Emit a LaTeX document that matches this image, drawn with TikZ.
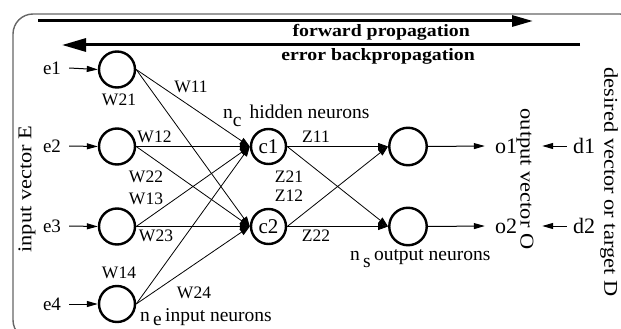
\documentclass[tikz,border=0pt]{standalone}
\usepackage{fontspec}
\setmainfont{Liberation Serif}
\usetikzlibrary{arrows.meta}
\begin{document}
\begin{tikzpicture}[x=1pt,y=-1pt,
  neuron/.style={circle,draw,line width=2.4pt,minimum size=36pt,inner sep=0pt},
  link/.style={line width=0.8pt,-{Triangle[length=10pt,width=7pt]}},
  smallarrow/.style={line width=1pt,-{Triangle[length=11pt,width=6pt]}},
  prop/.style={line width=3pt},
  lbl/.style={font=\fontsize{17.5}{18}\selectfont,inner sep=0pt},
  elbl/.style={font=\fontsize{19}{20}\selectfont,inner sep=0pt},
  caption/.style={font=\fontsize{19.5}{20}\selectfont,inner sep=0pt,anchor=base west},
  big/.style={font=\fontsize{22}{22}\selectfont,inner sep=0pt},
  vlbl/.style={inner sep=0pt}
]
\useasboundingbox (0,0) rectangle (621,329);
\clip (0,0) rectangle (621,329);
\draw[black!60, line width=1.4pt, rounded corners=20pt] (13,14) rectangle (640,340);

% propagation arrows
\coordinate (fwdS) at (38,21);
\coordinate (fwdE) at (533,21);
\coordinate (bwdS) at (580,45);
\coordinate (bwdE) at (62,45);
\draw[prop,-{Triangle[length=21pt,width=11pt]}] (fwdS) -- (fwdE);
\draw[prop,-{Triangle[length=24pt,width=13pt]}] (bwdS) -- (bwdE);
\node[inner sep=0pt,anchor=base east] (fwdt) at (470,37) {\scalebox{1.2}[1.05]{\fontsize{16.5}{18}\selectfont\bfseries forward propagation}};
\node[inner sep=0pt,anchor=base east] (bwdt) at (475,60) {\scalebox{1.2}[1.05]{\fontsize{16.5}{18}\selectfont\bfseries error backpropagation}};

% neurons
\node[neuron] (i1) at (117,69.5) {};
\node[neuron] (i2) at (117,146.5) {};
\node[neuron] (i3) at (117,226.5) {};
\node[neuron] (i4) at (117,304) {};
\node[neuron,minimum size=35pt,font=\fontsize{21}{21}\selectfont] (h1) at (268.5,146.5) {c1};
\node[neuron,minimum size=35pt,font=\fontsize{21}{21}\selectfont] (h2) at (268.5,226.5) {c2};
\node[neuron,minimum size=37.5pt] (o1n) at (408,146.5) {};
\node[neuron,minimum size=37.5pt] (o2n) at (408,226.5) {};

% input labels
\node[elbl] (e1) at (52,68) {e1};
\node[elbl] (e2) at (52,146) {e2};
\node[elbl] (e3) at (52,226) {e3};
\node[elbl] (e4) at (52,304) {e4};
\foreach \k in {1,2,3,4}{
  \draw[smallarrow] ([xshift=8pt]e\k.east) -- (i\k.west);
}

% input -> hidden
\foreach \k in {1,2,3,4}{
  \draw[link] (i\k.east) -- (h1.west);
  \draw[link] (i\k.east) -- (h2.west);
}
% hidden -> output
\draw[link] (h1.east) -- (o1n.west);
\draw[link] (h1.east) -- (o2n.west);
\draw[link] (h2.east) -- (o1n.west);
\draw[link] (h2.east) -- (o2n.west);

% outputs
\node[big] (o1) at (506,146) {o1};
\node[big] (o2) at (506,226) {o2};
\node[big] (d1) at (584,146) {d1};
\node[big] (d2) at (584,226) {d2};
\draw[smallarrow] (o1n.east) -- ([xshift=-10pt]o1.west);
\draw[smallarrow] (o2n.east) -- ([xshift=-10pt]o2.west);
\draw[smallarrow] ([xshift=-6pt]d1.west) -- ([xshift=25pt]o1.east);
\draw[smallarrow] ([xshift=-6pt]d2.west) -- ([xshift=25pt]o2.east);

% weights
\node[lbl] (w11) at (191,87) {W11};
\node[lbl] (w21) at (119,100) {W21};
\node[lbl] (w12) at (154.5,137) {W12};
\node[lbl] (w22) at (146,177) {W22};
\node[lbl] (w13) at (146,199) {W13};
\node[lbl] (w23) at (156,236) {W23};
\node[lbl] (w14) at (119,273) {W14};
\node[lbl] (w24) at (194,293) {W24};
\node[lbl] (z11) at (316,137) {Z11};
\node[lbl] (z21) at (289,177) {Z21};
\node[lbl] (z12) at (289,196) {Z12};
\node[lbl] (z22) at (316,236) {Z22};

% captions
\node[caption] (nc) at (223,118) {n\raisebox{-0.45em}{c}\, hidden neurons};
\node[caption] (ne) at (140,321) {n\,\raisebox{-0.22em}{e}\,input neurons};
\node[caption] (ns) at (350,260) {n\,\raisebox{-0.4em}{s}\,output neurons};

% rotated labels
\node[vlbl,rotate=90] (inv) at (27,189) {\scalebox{1.15}[1]{\fontsize{19.5}{20}\selectfont input vector E}};
\node[vlbl,rotate=-90] (outv) at (525,179) {\scalebox{1.15}[1]{\fontsize{19.5}{20}\selectfont output vector O}};
\node[vlbl,rotate=-90] (desv) at (609,182) {\scalebox{1.15}[1]{\fontsize{19.5}{20}\selectfont desired vector or target D}};
\end{tikzpicture}
\end{document}
